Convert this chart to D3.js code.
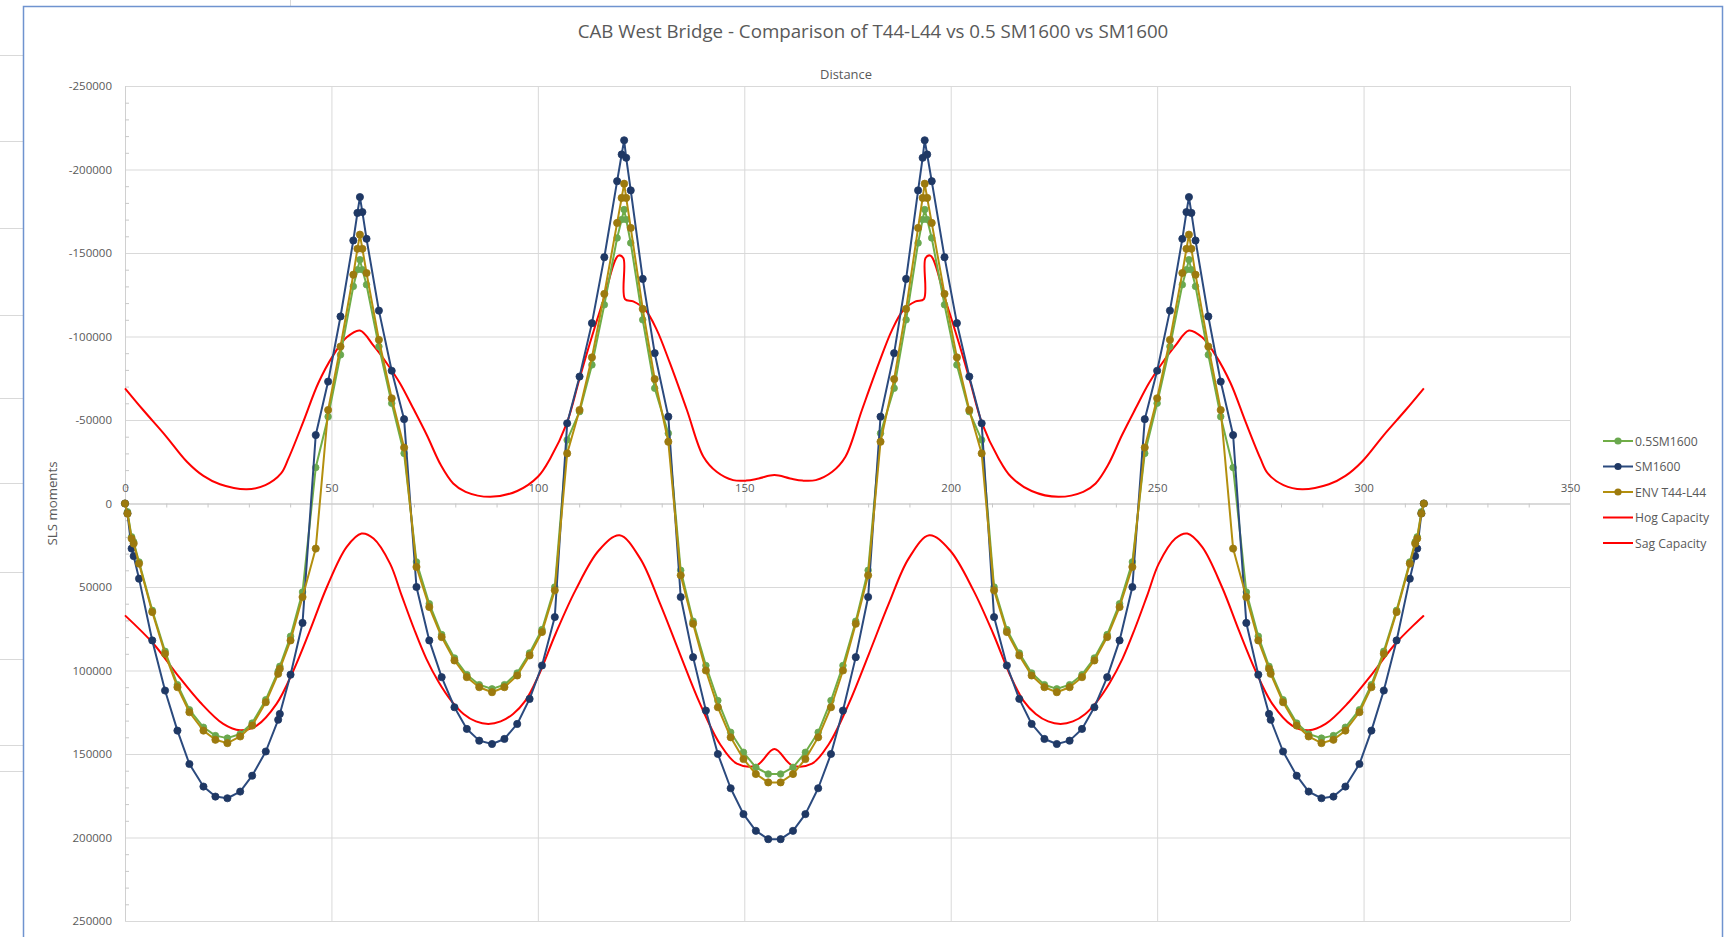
<!DOCTYPE html>
<html><head><meta charset="utf-8">
<script src="https://cdn.jsdelivr.net/npm/d3@7"></script>
<style>
html,body{margin:0;padding:0;background:#fff;}
svg{display:block;}
text{font-family:"Open Sans","Liberation Sans",sans-serif;fill:#595959;}
</style></head><body>
<svg id="chart" width="1728" height="937"></svg>
<script>
// ---------------- DATA ----------------
const chartTitle = "CAB West Bridge - Comparison of T44-L44 vs 0.5 SM1600 vs SM1600";
const xAxisTitle = "Distance";
const yAxisTitle = "SLS moments";
const seriesNames = ["0.5SM1600", "SM1600", "ENV T44-L44", "Hog Capacity", "Sag Capacity"];
const xTicks = [0, 50, 100, 150, 200, 250, 300, 350];
const yTicks = [-250000, -200000, -150000, -100000, -50000, 0, 50000, 100000, 150000, 200000, 250000];

const distance = [
  0, 0.6, 1.6, 2.1, 3.4, 6.6, 9.7, 12.7, 15.6, 19.0, 21.9, 24.8, 27.9, 30.8, 34.1, 37.1, 37.5, 40.1, 43.0, 46.2,
  49.2, 52.2, 55.3, 56.3, 56.9, 57.5, 58.5, 61.5, 64.6, 67.6, 70.6, 73.7, 76.7, 79.8, 82.8, 85.8, 88.9, 91.9, 95.0, 98.0,
  101.0, 104.1, 107.1, 110.1, 113.1, 116.1, 119.2, 120.3, 120.9, 121.4, 122.5, 125.4, 128.3, 131.6, 134.6, 137.6, 140.7, 143.6, 146.7, 149.8,
  152.8, 155.8,
  158.8, 161.8, 164.8, 167.9, 171.0, 173.9, 177.0, 180.0, 183.0, 186.3, 189.2, 192.1, 193.2, 193.7, 194.3, 195.4, 198.5, 201.5, 204.5, 207.5,
  210.5, 213.6, 216.6, 219.6, 222.7, 225.7, 228.8, 231.8, 234.8, 237.9, 240.9, 244.0, 247.0, 250.0, 253.1, 256.1, 257.1, 257.7, 258.3, 259.3,
  262.4, 265.4, 268.4, 271.6, 274.5, 277.1, 277.5, 280.5, 283.8, 286.7, 289.8, 292.7, 295.6, 299.0, 301.9, 304.9, 308.0, 311.2, 312.5, 313.0,
  314.0, 314.6
];

const halfSM1600 = [
  0, 5000, 20000, 23000, 35000, 64000, 88500, 108500, 123500, 134000, 139000, 140500, 138000, 131500, 117500, 100500, 97500, 79500, 53000, -21500,
  -52000, -89000, -130000, -140000, -146000, -140000, -131000, -94000, -60000, -30000, 35000, 60000, 78500, 92500, 102500, 108500, 111000, 108500, 101500, 89500,
  75500, 50000, -38000, -55000, -83000, -119000, -159000, -170000, -176000, -170000, -156000, -110000, -69000, -42000, 40000, 70500, 97000, 118000, 137000, 149000,
  158000, 162000,
  162000, 158000, 149000, 137000, 118000, 97000, 70500, 40000, -42000, -69000, -110000, -156000, -170000, -176000, -170000, -159000, -119000, -83000, -55000, -38000,
  50000, 75500, 89500, 101500, 108500, 111000, 108500, 102500, 92500, 78500, 60000, 35000, -30000, -60000, -94000, -131000, -140000, -146000, -140000, -130000,
  -89000, -52000, -21500, 53000, 79500, 97500, 100500, 117500, 131500, 138000, 140500, 139000, 134000, 123500, 108500, 88500, 64000, 35000, 23000, 20000,
  5000, 0
];

const sm1600 = [
  0, 6000, 27000, 31500, 45000, 82000, 112000, 136000, 156000, 169500, 175500, 176500, 172500, 163000, 148500, 129500, 126000, 102500, 71500, -41000,
  -73000, -112000, -157500, -174000, -183500, -174500, -158500, -115500, -79500, -50500, 50000, 82000, 104000, 122000, 135000, 142000, 144000, 141000, 132000, 117000,
  97000, 68000, -48000, -76000, -108000, -147500, -193000, -209000, -217500, -207000, -187500, -134500, -90000, -52000, 56000, 92000, 124000, 150000, 170500, 186000,
  196000, 201000,
  201000, 196000, 186000, 170500, 150000, 124000, 92000, 56000, -52000, -90000, -134500, -187500, -207000, -217500, -209000, -193000, -147500, -108000, -76000, -48000,
  68000, 97000, 117000, 132000, 141000, 144000, 142000, 135000, 122000, 104000, 82000, 50000, -50500, -79500, -115500, -158500, -174500, -183500, -174000, -157500,
  -112000, -73000, -41000, 71500, 102500, 126000, 129500, 148500, 163000, 172500, 176500, 175500, 169500, 156000, 136000, 112000, 82000, 45000, 31500, 27000,
  6000, 0
];

const envT44L44 = [
  0, 6000, 21000, 24000, 36000, 65000, 90000, 110000, 125000, 136000, 141500, 143500, 139500, 133000, 119000, 102000, 99000, 82000, 56000, 27000,
  -56000, -94000, -137000, -152500, -161000, -152500, -138000, -98000, -63000, -33500, 38000, 62000, 80000, 94000, 104000, 110000, 113000, 110000, 103000, 91000,
  77000, 52000, -30000, -56000, -87500, -125500, -168000, -183000, -191500, -183000, -165000, -116500, -74500, -37000, 43000, 72000, 100000, 122000, 140000, 153000,
  162000, 167000,
  167000, 162000, 153000, 140000, 122000, 100000, 72000, 43000, -37000, -74500, -116500, -165000, -183000, -191500, -183000, -168000, -125500, -87500, -56000, -30000,
  52000, 77000, 91000, 103000, 110000, 113000, 110000, 104000, 94000, 80000, 62000, 38000, -33500, -63000, -98000, -138000, -152500, -161000, -152500, -137000,
  -94000, -56000, 27000, 56000, 82000, 99000, 102000, 119000, 133000, 139500, 143500, 141500, 136000, 125000, 110000, 90000, 65000, 36000, 24000, 21000,
  6000, 0
];

const hogDistance = [
  0, 4.4, 9.7, 15.0, 19.0, 23.0, 29.5, 34.0, 37.8, 39.6, 43.2, 46.8, 50.5, 53.7, 56.9, 60.2, 63.4, 66.6, 69.8, 73.1,
  76.5, 79.5, 82.5, 88.5, 95.0, 100.0, 103.0, 107.0, 110.0, 112.6, 115.9, 119.5, 120.7, 121.1, 123.1, 126.0, 128.8, 132.0, 136.1, 140.1,
  143.3, 147.3, 150.5, 153.5, 157.3, 161.1, 164.1, 167.3, 171.3, 174.5, 178.5, 182.6, 185.8, 188.6, 191.5, 193.5, 193.9, 195.1, 198.7, 202.0,
  204.6, 207.6, 211.6, 214.6, 219.6, 226.1, 232.1, 235.1, 238.1, 241.5, 244.8, 248.0, 251.2, 254.4, 257.7, 260.9, 264.1, 267.8, 271.4, 275.0,
  276.8, 280.6, 285.1, 291.6, 295.6, 299.6, 304.9, 310.2, 314.6
];
const hogCapacity = [
  -69000, -56000, -41000, -25000, -16500, -11500, -8500, -11000, -18000, -27000, -49000, -72000, -89000, -99500, -103600, -94500, -84000, -72000, -57000, -41000,
  -23000, -12000, -7000, -4000, -7500, -16000, -27000, -48000, -74000, -96000, -122000, -148400, -147000, -122400, -121000, -116000, -104000, -84000, -56000, -28000,
  -19000, -14000, -13700, -15000, -17000, -15000, -13700, -14000, -19000, -28000, -56000, -84000, -104000, -116000, -121000, -122400, -147000, -148400, -122000, -96000,
  -74000, -48000, -27000, -16000, -7500, -4000, -7000, -12000, -23000, -41000, -57000, -72000, -84000, -94500, -103600, -99500, -89000, -72000, -49000, -27000,
  -18000, -11000, -8500, -11500, -16500, -25000, -41000, -56000, -69000
];

const sagDistance = [
  0, 6.9, 12.5, 18.2, 23.8, 27.9, 31.9, 36.7, 40.8, 44.8, 48.9, 53.7, 57.3, 60.2, 64.2, 67.0, 70.0, 73.0, 76.0, 79.0,
  82.0, 85.0, 88.0, 91.0, 94.0, 97.0, 100.0, 104.3, 109.1, 114.8, 119.8, 124.8, 129.6, 134.4, 139.3, 144.1, 148.2, 153.0, 157.3, 161.6,
  166.4, 170.5, 175.3, 180.2, 185.0, 189.8, 194.8, 199.8, 205.5, 210.3, 214.6, 217.6, 220.6, 223.6, 226.6, 229.6, 232.6, 235.6, 238.6, 241.6,
  244.6, 247.6, 250.4, 254.4, 257.3, 260.9, 265.7, 269.8, 273.8, 277.9, 282.7, 286.7, 290.8, 296.4, 302.1, 307.7, 314.6
];
const sagCapacity = [
  67000, 84000, 102000, 119000, 132000, 135800, 133000, 120000, 100000, 76000, 50000, 26000, 18000, 21000, 36000, 55000, 75000, 93000, 107000, 118000,
  126000, 130500, 132000, 130500, 126000, 118000, 104000, 78000, 52000, 28000, 19000, 33000, 60000, 90000, 120000, 144000, 155800, 156800, 147000, 156800,
  155800, 144000, 120000, 90000, 60000, 33000, 19000, 28000, 52000, 78000, 104000, 118000, 126000, 130500, 132000, 130500, 126000, 118000, 107000, 93000,
  75000, 55000, 36000, 21000, 18000, 26000, 50000, 76000, 100000, 120000, 133000, 135800, 132000, 119000, 102000, 84000, 67000
];

// ---------------- LAYOUT ----------------
const svg = d3.select("#chart");
const plot = {left: 125, right: 1570, top: 86, bottom: 921};
const x = d3.scaleLinear().domain([0, 350]).range([plot.left, plot.right]);
const y = d3.scaleLinear().domain([-250000, 250000]).range([plot.top, plot.bottom]);

const colors = {
  green: "#70AD47", greenMark: "#6AA84F",
  blue: "#2B4A7E", blueMark: "#1F3864",
  gold: "#B38F0E", goldMark: "#9C7A0E",
  red: "#FF0000"
};

// spreadsheet remnants behind the chart object
const sheetLines = [55, 141, 228, 315, 398, 483, 572, 659, 745, 771];
svg.selectAll("line.sheet").data(sheetLines).enter().append("line")
  .attr("x1", 0).attr("x2", 23).attr("y1", d => d + 0.5).attr("y2", d => d + 0.5)
  .attr("stroke", "#d9d9d9").attr("stroke-width", 1);
svg.append("line").attr("x1", 290.5).attr("x2", 290.5).attr("y1", 0).attr("y2", 6)
  .attr("stroke", "#d9d9d9");

// chart frame
svg.append("rect").attr("x", 23.5).attr("y", 6.5).attr("width", 1699).attr("height", 960)
  .attr("fill", "#fff").attr("stroke", "#6f93cf").attr("stroke-width", 1.5);

function fitText(sel, target, base) {
  sel.style("font-size", base + "px");
  const w = sel.node().getComputedTextLength();
  sel.style("font-size", (base * target / w).toFixed(2) + "px");
}

// gridlines
const gy = svg.append("g").attr("transform", `translate(${plot.left},0)`)
  .call(d3.axisLeft(y).tickValues(yTicks).tickSize(-(plot.right - plot.left)).tickFormat(""));
gy.select(".domain").remove();
gy.selectAll("line").attr("stroke", "#d9d9d9").attr("stroke-width", 1);

const gx = svg.append("g").attr("transform", `translate(0,${plot.bottom})`)
  .call(d3.axisBottom(x).tickValues(xTicks.filter(d => d > 0)).tickSize(-(plot.bottom - plot.top)).tickFormat(""));
gx.select(".domain").remove();
gx.selectAll("line").attr("stroke", "#d9d9d9").attr("stroke-width", 1);

// vertical axis line + minor ticks
const yMinor = d3.range(-240000, 250000, 10000).filter(d => d % 50000 !== 0);
const ym = svg.append("g").attr("transform", `translate(${plot.left},0)`)
  .call(d3.axisRight(y).tickValues(yMinor).tickSize(4).tickFormat(""));
ym.select(".domain").attr("stroke", "#d0d0d0").attr("d", `M0.5,${plot.top}V${plot.bottom}`);
ym.selectAll("line").attr("stroke", "#c8c8c8");

// horizontal axis at zero + minor ticks
const xMinor = d3.range(10, 350, 10).filter(d => d % 50 !== 0);
const xm = svg.append("g").attr("transform", `translate(0,${y(0)})`)
  .call(d3.axisBottom(x).tickValues(xMinor).tickSize(4).tickFormat(""));
xm.select(".domain").attr("stroke", "#c8c8c8").attr("d", `M${plot.left},0.5H${plot.right}`);
xm.selectAll("line").attr("stroke", "#c8c8c8");

// tick labels
const yl = svg.append("g").attr("transform", `translate(${plot.left},0)`)
  .call(d3.axisLeft(y).tickValues(yTicks).tickSize(0).tickPadding(13).tickFormat(d => String(d)));
yl.select(".domain").remove();
yl.selectAll("text").attr("fill", "#595959").style("font-size", "11.5px")
  .style("font-family", '"Open Sans","Liberation Sans",sans-serif');

const xl = svg.append("g").attr("transform", `translate(0,${y(0)})`)
  .call(d3.axisTop(x).tickValues(xTicks).tickSize(0).tickPadding(12).tickFormat(d => String(d)));
xl.select(".domain").remove();
xl.selectAll("text").attr("fill", "#595959").style("font-size", "11.5px")
  .style("font-family", '"Open Sans","Liberation Sans",sans-serif');

// titles
const t = svg.append("text").attr("x", 873).attr("y", 38).attr("text-anchor", "middle").text(chartTitle);
fitText(t, 591, 17);
const xt = svg.append("text").attr("x", 846).attr("y", 79).attr("text-anchor", "middle").text(xAxisTitle);
fitText(xt, 52, 12);
const yt = svg.append("text").attr("transform", "translate(57,503.5) rotate(-90)").attr("text-anchor", "middle").text(yAxisTitle);
fitText(yt, 84, 12);

// clip
svg.append("clipPath").attr("id", "clip").append("rect")
  .attr("x", plot.left - 6).attr("y", plot.top - 6).attr("width", plot.right - plot.left + 12).attr("height", plot.bottom - plot.top + 12);
const g = svg.append("g").attr("clip-path", "url(#clip)");

const straight = d3.line().x(d => x(d[0])).y(d => y(d[1]));
const smooth = d3.line().curve(d3.curveCatmullRom.alpha(0.5)).x(d => x(d[0])).y(d => y(d[1]));

const markerSeries = [
  {name: seriesNames[0], vals: halfSM1600, line: colors.green, mark: colors.greenMark, r: 3.3},
  {name: seriesNames[1], vals: sm1600, line: colors.blue, mark: colors.blueMark, r: 3.6},
  {name: seriesNames[2], vals: envT44L44, line: colors.gold, mark: colors.goldMark, r: 3.6}
];

// capacities (drawn first)
g.append("path").datum(d3.zip(hogDistance, hogCapacity)).attr("d", smooth)
  .attr("fill", "none").attr("stroke", colors.red).attr("stroke-width", 2);
g.append("path").datum(d3.zip(sagDistance, sagCapacity)).attr("d", smooth)
  .attr("fill", "none").attr("stroke", colors.red).attr("stroke-width", 2);

markerSeries.forEach(s => {
  const pts = d3.zip(distance, s.vals);
  g.append("path").datum(pts).attr("d", straight)
    .attr("fill", "none").attr("stroke", s.line).attr("stroke-width", 2).attr("stroke-linejoin", "round");
  g.selectAll(null).data(pts).enter().append("circle")
    .attr("cx", d => x(d[0])).attr("cy", d => y(d[1])).attr("r", s.r)
    .attr("fill", s.mark).attr("stroke", s.mark).attr("stroke-width", 0.8);
});

// legend
const legendY = [441, 466.5, 492, 517.5, 543];
const legendItems = [
  {name: seriesNames[0], line: colors.green, mark: colors.greenMark},
  {name: seriesNames[1], line: colors.blue, mark: colors.blueMark},
  {name: seriesNames[2], line: colors.gold, mark: colors.goldMark},
  {name: seriesNames[3], line: colors.red, mark: null},
  {name: seriesNames[4], line: colors.red, mark: null}
];
const lg = svg.append("g");
legendItems.forEach((it, i) => {
  const yy = legendY[i];
  lg.append("line").attr("x1", 1603).attr("x2", 1633).attr("y1", yy).attr("y2", yy)
    .attr("stroke", it.line).attr("stroke-width", 2);
  if (it.mark) lg.append("circle").attr("cx", 1618).attr("cy", yy).attr("r", 3.6).attr("fill", it.mark);
  lg.append("text").attr("x", 1635).attr("y", yy + 4.5).style("font-size", "12.2px").text(it.name);
});
</script>
</body></html>
